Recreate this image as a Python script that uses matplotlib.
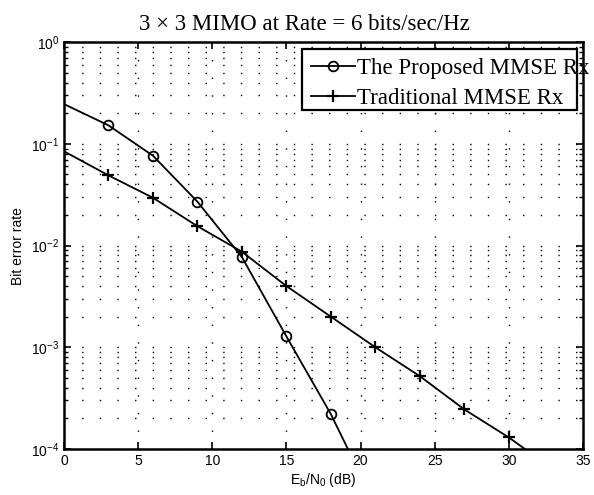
import matplotlib
matplotlib.use("Agg")

import matplotlib.pyplot as plt
from matplotlib.patches import Rectangle

# Eb/N0 (dB) and bit error rates
snr_prop = [0, 3, 6, 9, 12, 15, 18, 21]
ber_prop = [0.246, 0.152, 0.0765, 0.027, 0.0077, 0.00128, 0.00022, 0.000028]

snr_trad = [0, 3, 6, 9, 12, 15, 18, 21, 24, 27, 30, 33]
ber_trad = [0.0845, 0.049, 0.0295, 0.0155, 0.0087, 0.0040, 0.0020, 0.0010,
            0.00052, 0.000245, 0.00013, 0.000063]

labels = ["The Proposed MMSE Rx", "Traditional MMSE Rx"]
xticks = [0, 5, 10, 15, 20, 25, 30, 35]

plt.rcParams['font.family'] = ['Liberation Sans', 'DejaVu Sans']
plt.rcParams['mathtext.fontset'] = 'custom'
plt.rcParams['mathtext.rm'] = 'Liberation Sans'
plt.rcParams['mathtext.it'] = 'Liberation Sans:italic'
plt.rcParams['mathtext.default'] = 'regular'

fig = plt.figure(figsize=(5.94, 4.95), dpi=100)
ax = fig.add_axes([0.1077, 0.0929, 0.8737, 0.822])

ax.semilogy(snr_prop, ber_prop, color='black', lw=1.3, marker='o', ms=7,
            mfc='none', mew=1.3, markevery=list(range(1, 7)), label=labels[0])
ax.semilogy(snr_trad, ber_trad, color='black', lw=1.3, marker='+', ms=9,
            mew=1.6, markevery=list(range(1, 11)), label=labels[1])

ax.set_xlim(0, 35)
ax.set_ylim(1e-4, 1)
ax.set_xticks(xticks)

# matlab-style sparse dotted grid
ax.grid(True, which='both', axis='y', color='black',
        linestyle=(0, (1, 11.7)), linewidth=1.0)
ax.grid(True, which='major', axis='x', color='black',
        linestyle=(0, (1, 11.7)), linewidth=1.0)

ax.tick_params(which='both', direction='in', top=True, right=True, labelsize=10)
ax.tick_params(which='major', length=5, width=1.2)
ax.tick_params(which='minor', length=3, width=1.0)
ax.tick_params(axis='x', which='minor', bottom=False, top=False)
for s in ax.spines.values():
    s.set_linewidth(1.8)

ax.set_xlabel(r"E$_b$/N$_0$ (dB)", fontsize=10, labelpad=2)
ax.set_ylabel("Bit error rate", fontsize=10, labelpad=4)
fig.text(0.512, 0.939, "3 × 3 MIMO at Rate = 6 bits/sec/Hz",
         family='Liberation Serif', fontsize=16.5, ha='center', va='baseline')

# legend box is drawn separately: in the original the text runs past the frame
box = Rectangle((0.4586, 0.833), 0.5298, 0.150, transform=ax.transAxes,
                facecolor='white', edgecolor='black', lw=1.6, zorder=4)
ax.add_patch(box)
leg = ax.legend(loc='upper left', bbox_to_anchor=(0.4759, 0.962),
                prop={'family': 'Liberation Serif', 'size': 16.5},
                frameon=False, borderaxespad=0, borderpad=0,
                handlelength=1.92, handletextpad=0.09, labelspacing=0.39)
leg.set_zorder(5)

plt.savefig('out.png', dpi=100)
